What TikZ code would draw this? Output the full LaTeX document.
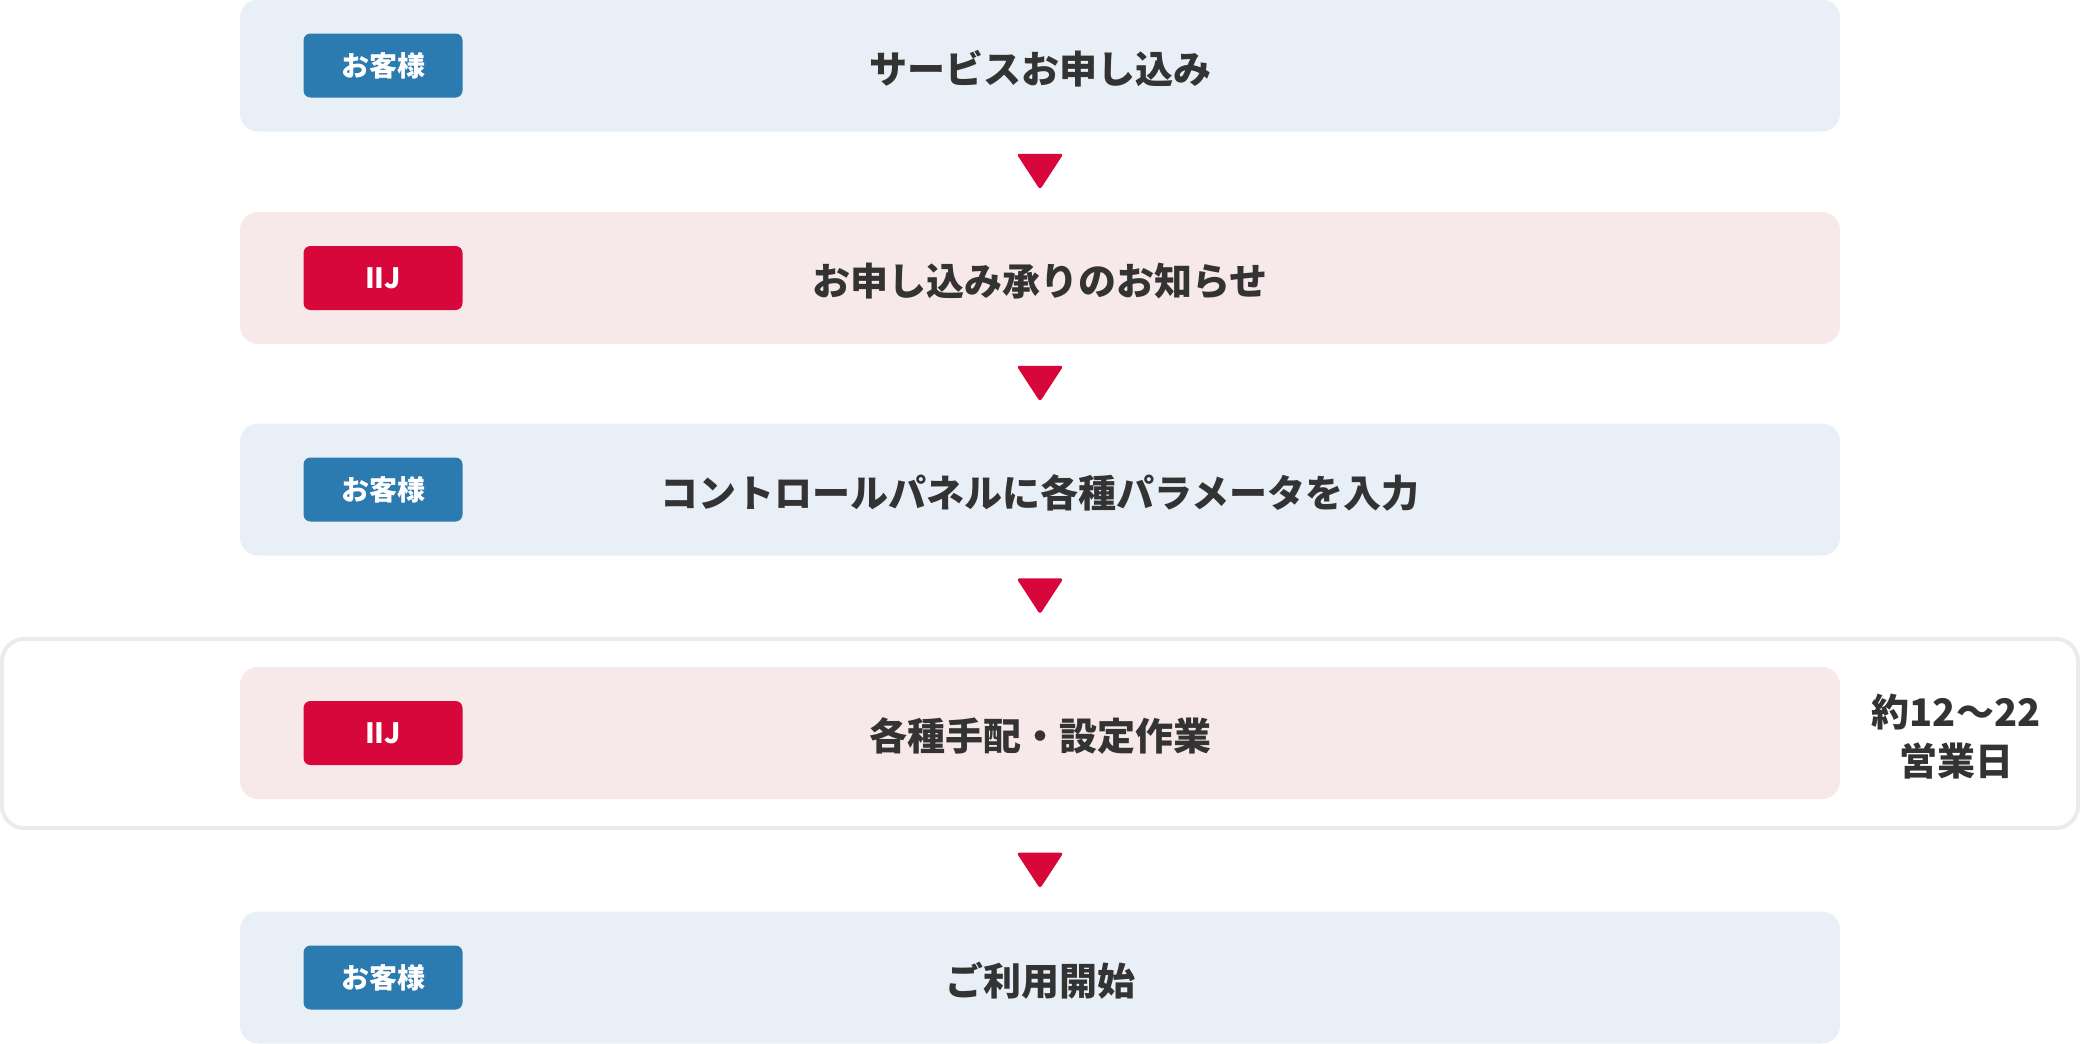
\documentclass[tikz,border=0pt]{standalone}
\usepackage{fontspec}
\setmainfont{Noto Sans CJK JP}
\usetikzlibrary{calc}
\definecolor{bluebg}{HTML}{E8EFF6}
\definecolor{pinkbg}{HTML}{F7E8EA}
\definecolor{badgeblue}{HTML}{2B7AB0}
\definecolor{badgered}{HTML}{D7063B}
\definecolor{txt}{HTML}{333333}
\definecolor{outline}{HTML}{E8ECEE}
\begin{document}
\begin{tikzpicture}[x=1pt,y=-1pt,
  stepbox/.style={rectangle, rounded corners=18pt, minimum width=1600pt, minimum height=132pt, inner sep=0pt},
  bluestep/.style={stepbox, fill=bluebg},
  pinkstep/.style={stepbox, fill=pinkbg},
  badge/.style={rectangle, rounded corners=7pt, minimum width=159pt, minimum height=64pt, inner sep=0pt, text=white, font=\fontsize{28}{32}\selectfont\bfseries},
  custbadge/.style={badge, fill=badgeblue},
  iijbadge/.style={badge, fill=badgered},
  maintext/.style={text=txt, inner sep=0pt, font=\fontsize{38}{44}\selectfont\bfseries},
  tri/.style={fill=badgered, rounded corners=3pt}
]
\useasboundingbox (0,0) rectangle (2080,1044);
% outer frame for step 4
\node[rectangle, draw=outline, line width=4pt, rounded corners=22pt, minimum width=2076pt, minimum height=189pt, inner sep=0pt] (frame) at (1040,733.5) {};

\node[bluestep] (b1) at (1040,65.5) {};
\node[pinkstep] (b2) at (1040,278) {};
\node[bluestep] (b3) at (1040,489.5) {};
\node[pinkstep] (b4) at (1040,733) {};
\node[bluestep] (b5) at (1040,977.5) {};

\node[custbadge] (g1) at (383,65.5) {お客様};
\node[iijbadge] (g2) at (383,278) {IIJ};
\node[custbadge] (g3) at (383,489.5) {お客様};
\node[iijbadge] (g4) at (383,733) {IIJ};
\node[custbadge] (g5) at (383,977.5) {お客様};

\node[maintext] (m1) at ($(b1.center)+(0,3)$) {サービスお申し込み};
\node[maintext] (m2) at ($(b2.center)+(0,3)$) {お申し込み承りのお知らせ};
\node[maintext] (m3) at ($(b3.center)+(0,3)$) {コントロールパネルに各種パラメータを入力};
\node[maintext] (m4) at ($(b4.center)+(0,3)$) {各種手配・設定作業};
\node[maintext] (m5) at ($(b5.center)+(0,3)$) {ご利用開始};

\node[text=txt, align=center, inner sep=0pt, font=\fontsize{38}{49}\selectfont\bfseries] (days) at (1956,737) {約12〜22\\営業日};

\foreach \u/\l [count=\i] in {b1/b2, b2/b3, b3/frame, frame/b5} {
  \coordinate (a\i) at ($(\u.south)!0.5!(\l.north)$);
  \fill[tri] ($(a\i)+(-23.5,-18)$) -- ++(47,0) -- ++(-23.5,36) -- cycle;
}
\end{tikzpicture}
\end{document}
